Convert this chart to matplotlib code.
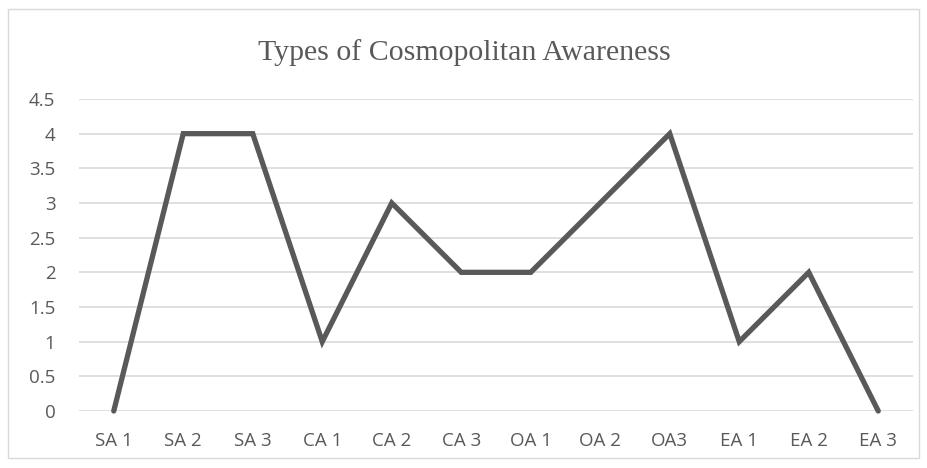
import matplotlib
matplotlib.use("Agg")
import matplotlib.pyplot as plt
from matplotlib.patches import Rectangle

categories = ["SA 1", "SA 2", "SA 3", "CA 1", "CA 2", "CA 3",
              "OA 1", "OA 2", "OA3", "EA 1", "EA 2", "EA 3"]
values = [0, 4, 4, 1, 3, 2, 2, 3, 4, 1, 2, 0]
yticks = [0, 0.5, 1, 1.5, 2, 2.5, 3, 3.5, 4, 4.5]
ytick_labels = ["0", "0.5", "1", "1.5", "2", "2.5", "3", "3.5", "4", "4.5"]
title = "Types of Cosmopolitan Awareness"

fig = plt.figure(figsize=(9.28, 4.68), dpi=100)
fig.patch.set_facecolor("white")
fig.add_artist(Rectangle((8/928, 1 - 458/468), (919-8)/928, (458-9)/468,
                         transform=fig.transFigure, fill=False,
                         edgecolor="#D9D9D9", linewidth=1))

ax = fig.add_axes([79/928, 1 - 411/468, (913-79)/928, (411-99)/468])
x = list(range(len(categories)))
ax.plot(x, values, color="#595959", linewidth=3.8, solid_capstyle="round",
        solid_joinstyle="miter", zorder=3, clip_on=False)
ax.set_xlim(-0.5, len(categories) - 0.5)
ax.set_ylim(0, 4.5)
ax.set_yticks(yticks)
ax.set_yticklabels(ytick_labels)
ax.set_xticks(x)
ax.set_xticklabels(categories)
ax.grid(axis="y", color="#D9D9D9", linewidth=1.2)
ax.set_axisbelow(True)
for s in ax.spines.values():
    s.set_visible(False)
ax.tick_params(axis="both", length=0, labelsize=13.5, labelcolor="#595959")
ax.tick_params(axis="y", pad=17)
ax.tick_params(axis="x", pad=15)
for lab in ax.get_xticklabels() + ax.get_yticklabels():
    lab.set_fontfamily("Open Sans")

fig.text(0.5, 1 - 60/468, title, ha="center", va="baseline",
         fontsize=21.5, color="#595959", fontfamily="Liberation Serif")

fig.savefig("out.png", dpi=100)
